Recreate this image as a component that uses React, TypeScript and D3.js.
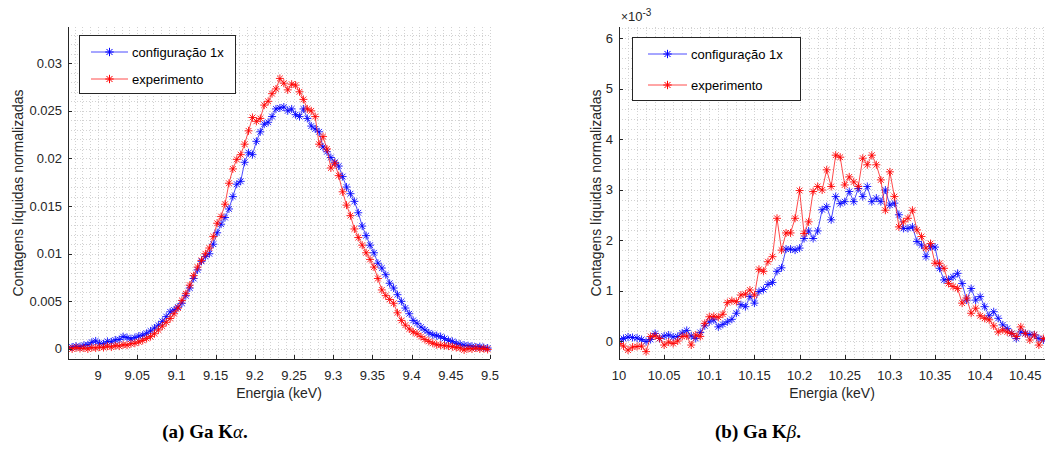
import React from "react";
import * as d3 from "d3";

// ---------- DATA (values in units of 1e-3) ----------
const kaEnergy = [
  8.962, 8.967, 8.972, 8.977, 8.982, 8.987, 8.992, 8.997, 9.002, 9.007,
  9.012, 9.017, 9.022, 9.027, 9.032, 9.037, 9.042, 9.047, 9.052, 9.057,
  9.062, 9.067, 9.072, 9.077, 9.082, 9.087, 9.092, 9.097, 9.102, 9.107,
  9.112, 9.117, 9.122, 9.127, 9.132, 9.137, 9.142, 9.147, 9.152, 9.157,
  9.162, 9.167, 9.172, 9.177, 9.182, 9.187, 9.192, 9.197, 9.202, 9.207,
  9.212, 9.217, 9.222, 9.227, 9.232, 9.237, 9.242, 9.247, 9.252, 9.257,
  9.262, 9.267, 9.272, 9.277, 9.282, 9.287, 9.292, 9.297, 9.302, 9.307,
  9.312, 9.317, 9.322, 9.327, 9.332, 9.337, 9.342, 9.347, 9.352, 9.357,
  9.362, 9.367, 9.372, 9.377, 9.382, 9.387, 9.392, 9.397, 9.402, 9.407,
  9.412, 9.417, 9.422, 9.427, 9.432, 9.437, 9.442, 9.447, 9.452, 9.457,
  9.462, 9.467, 9.472, 9.477, 9.482, 9.487, 9.492, 9.497,
];
const kaSim = [
  0.15, 0.2, 0.3, 0.25, 0.4, 0.45, 0.7, 0.85, 0.6, 0.55,
  0.8, 0.75, 0.95, 1.0, 1.3, 1.2, 1.05, 1.2, 1.35, 1.45,
  1.65, 1.9, 2.2, 2.5, 2.9, 3.4, 3.9, 4.1, 4.4, 4.8,
  5.6, 6.4, 7.4, 8.3, 9.2, 9.7, 10.0, 11.0, 12.2, 13.1,
  13.8, 14.7, 16.0, 17.3, 17.6, 19.6, 20.6, 20.4, 21.8, 22.8,
  23.6, 23.8, 24.4, 25.2, 25.3, 25.4, 25.0, 25.2, 24.6, 24.4,
  25.2, 24.2, 23.4, 23.1, 22.8, 21.2, 20.7, 20.1, 19.6, 19.2,
  18.1, 17.0, 16.3, 15.5, 14.3, 12.9, 11.9, 10.9, 10.1, 9.0,
  8.5, 7.8, 6.9, 6.4, 5.7, 5.0, 4.3, 3.7, 3.0, 2.7,
  2.3, 2.0, 1.7, 1.5, 1.4, 1.3, 1.1, 0.9, 0.8, 0.6,
  0.5, 0.4, 0.35, 0.3, 0.2, 0.25, 0.15, 0.1,
];
const kaExp = [
  0.1, 0.0, 0.15, 0.05, 0.1, 0.0, 0.15, 0.1, 0.2, 0.15,
  0.3, 0.2, 0.35, 0.3, 0.45, 0.4, 0.55, 0.6, 0.75, 0.9,
  1.1, 1.3, 1.6, 2.0, 2.4, 2.8, 3.2, 3.7, 4.3, 5.1,
  5.8, 6.7, 7.7, 8.6, 9.3, 10.0, 10.6, 11.8, 13.2, 13.9,
  15.2, 17.4, 18.9, 19.9, 20.4, 21.5, 22.9, 24.3, 23.9, 24.2,
  25.6, 26.0, 26.8, 27.3, 28.4, 27.9, 27.2, 27.8, 27.7, 27.0,
  26.2, 25.2, 25.0, 24.4, 21.5, 22.3, 21.0, 19.0, 19.5, 18.2,
  16.5, 15.1, 14.0, 12.6, 11.7, 10.9, 10.1, 9.4, 8.6, 7.4,
  6.2, 5.6, 5.2, 4.8, 3.8, 3.0, 2.5, 2.1, 1.8, 1.6,
  1.3, 1.0, 0.8, 0.6, 0.45, 0.4, 0.35, 0.3, 0.25, 0.15,
  0.1, -0.1, 0.05, 0.0, 0.1, 0.0, 0.05, -0.05,
];

const kbEnergy = [
  10.0, 10.005, 10.01, 10.015, 10.02, 10.025, 10.03, 10.035, 10.04, 10.045,
  10.05, 10.055, 10.06, 10.065, 10.07, 10.075, 10.08, 10.085, 10.09, 10.095,
  10.1, 10.105, 10.11, 10.115, 10.12, 10.125, 10.13, 10.135, 10.14, 10.145,
  10.15, 10.155, 10.16, 10.165, 10.17, 10.175, 10.18, 10.185, 10.19, 10.195,
  10.2, 10.205, 10.21, 10.215, 10.22, 10.225, 10.23, 10.235, 10.24, 10.245,
  10.25, 10.255, 10.26, 10.265, 10.27, 10.275, 10.28, 10.285, 10.29, 10.295,
  10.3, 10.305, 10.31, 10.315, 10.32, 10.325, 10.33, 10.335, 10.34, 10.345,
  10.35, 10.355, 10.36, 10.365, 10.37, 10.375, 10.38, 10.385, 10.39, 10.395,
  10.4, 10.405, 10.41, 10.415, 10.42, 10.425, 10.43, 10.435, 10.44, 10.445,
  10.45, 10.455, 10.46, 10.465, 10.47,
];
const kbSim = [
  0.02, 0.05, 0.08, 0.07, 0.06, 0.03, -0.01, 0.03, 0.15, 0.05,
  0.1, 0.12, 0.08, 0.09, 0.16, 0.21, 0.1, 0.05, 0.17, 0.3,
  0.38, 0.42, 0.28, 0.33, 0.38, 0.43, 0.55, 0.72, 0.68, 0.88,
  0.75, 0.98, 1.02, 1.12, 1.16, 1.38, 1.45, 1.82, 1.82, 1.8,
  1.84, 2.03, 2.18, 2.03, 2.18, 2.6, 2.66, 2.4, 2.86, 2.72,
  2.76, 2.96, 2.76, 3.02, 2.86, 3.06, 2.76, 2.83, 2.76, 2.99,
  2.69, 2.73, 2.5, 2.23, 2.23, 2.26, 1.97, 1.9, 1.67, 1.87,
  1.86, 1.44, 1.21, 1.22, 1.27, 1.34, 1.14, 0.81, 1.04, 0.81,
  0.88, 0.68, 0.5, 0.58, 0.45, 0.32, 0.25, 0.15, 0.05, 0.18,
  0.15, 0.13, 0.12, 0.05, 0.02,
];
const kbExp = [
  -0.05, -0.1, -0.18, -0.12, -0.11, -0.1, -0.21, 0.09, 0.1, 0.05,
  -0.08, -0.02, -0.05, 0.0, 0.09, 0.1, -0.08, 0.12, 0.09, 0.35,
  0.48, 0.49, 0.47, 0.53, 0.76, 0.8, 0.78, 0.91, 0.93, 1.01,
  0.91, 1.42, 1.38, 1.57, 1.67, 2.43, 1.8, 2.14, 2.14, 2.43,
  2.98, 2.13, 2.36, 2.96, 3.06, 2.99, 3.39, 3.06, 3.68, 3.64,
  3.09, 3.25, 3.15, 3.06, 3.62, 3.49, 3.68, 3.49, 3.19, 2.59,
  3.35, 2.86, 2.26, 2.36, 2.43, 2.59, 2.2, 2.07, 1.84, 1.93,
  1.54, 1.54, 1.44, 1.14, 1.08, 1.04, 0.75, 0.85, 0.55, 0.65,
  0.5, 0.45, 0.42, 0.3, 0.18, 0.22, 0.18, 0.15, 0.09, 0.28,
  0.15, 0.02, 0.12, -0.08, 0.05,
];

const kaXTicks = [9, 9.05, 9.1, 9.15, 9.2, 9.25, 9.3, 9.35, 9.4, 9.45, 9.5];
const kaXTickLabels = ["9", "9.05", "9.1", "9.15", "9.2", "9.25", "9.3", "9.35", "9.4", "9.45", "9.5"];
const kaYTicks = [0, 5, 10, 15, 20, 25, 30];
const kaYTickLabels = ["0", "0.005", "0.01", "0.015", "0.02", "0.025", "0.03"];
const kbXTicks = [10, 10.05, 10.1, 10.15, 10.2, 10.25, 10.3, 10.35, 10.4, 10.45];
const kbXTickLabels = ["10", "10.05", "10.1", "10.15", "10.2", "10.25", "10.3", "10.35", "10.4", "10.45"];
const kbYTicks = [0, 1, 2, 3, 4, 5, 6];
const kbYTickLabels = ["0", "1", "2", "3", "4", "5", "6"];

const seriesNames = ["configuração 1x", "experimento"];
const seriesColors = ["#0000ff", "#ff0000"];

const FONT = "'Liberation Sans', Arial, Helvetica, sans-serif";
const AX = "#262626";

function asteriskPath(pts: [number, number][], r = 4) {
  const d = r * 0.72;
  return pts
    .map(
      ([x, y]) =>
        `M${x - r},${y}H${x + r}M${x},${y - r}V${y + r}M${x - d},${y - d}L${x + d},${y + d}M${x - d},${y + d}L${x + d},${y - d}`
    )
    .join("");
}

type PanelCfg = {
  left: number; right: number; top: number; bottom: number;
  xDomain: [number, number]; yDomain: [number, number];
  xMinorStep: number; yMinorStep: number;
  xTicks: number[]; xTickLabels: string[];
  yTicks: number[]; yTickLabels: string[];
  energy: number[]; series: number[][];
  yLabelX: number; exponent?: boolean;
  legend: { x: number; y: number; w: number; h: number; lineX0: number; lineX1: number; textX: number; row1: number; row2: number };
  clipId: string;
};

function Panel({ c }: { c: PanelCfg }) {
  const x = d3.scaleLinear().domain(c.xDomain).range([c.left, c.right]);
  const y = d3.scaleLinear().domain(c.yDomain).range([c.bottom, c.top]);
  const xMinor = d3.range(Math.ceil(c.xDomain[0] / c.xMinorStep) * c.xMinorStep, c.xDomain[1] + 1e-9, c.xMinorStep);
  const yMinor = d3.range(Math.ceil(c.yDomain[0] / c.yMinorStep) * c.yMinorStep, c.yDomain[1] + 1e-9, c.yMinorStep);
  const line = d3.line<[number, number]>().x((d) => d[0]).y((d) => d[1]);
  const cx = (c.left + c.right) / 2;
  const cy = (c.top + c.bottom) / 2;
  return (
    <g>
      <defs>
        <clipPath id={c.clipId}>
          <rect x={c.left} y={c.top - 6} width={c.right - c.left + 6} height={c.bottom - c.top + 6} />
        </clipPath>
      </defs>
      {/* grid */}
      <g stroke="#d2d2d2" strokeWidth={1} strokeDasharray="1,2" shapeRendering="crispEdges">
        {xMinor.map((v, i) => (
          <line key={"gx" + i} x1={Math.round(x(v)) + 0.5} x2={Math.round(x(v)) + 0.5} y1={c.top} y2={c.bottom} />
        ))}
        {yMinor.map((v, i) => (
          <line key={"gy" + i} x1={c.left} x2={c.right} y1={Math.round(y(v)) + 0.5} y2={Math.round(y(v)) + 0.5} />
        ))}
      </g>
      {/* data */}
      <g clipPath={`url(#${c.clipId})`}>
        {c.series.map((vals, si) => {
          const pts = vals.map((v, i) => [x(c.energy[i]), y(v)] as [number, number]);
          return (
            <g key={si} stroke={seriesColors[si]} fill="none" strokeWidth={1}>
              <path d={line(pts) || ""} strokeOpacity={0.7} />
              <path d={asteriskPath(pts)} strokeOpacity={0.85} />
            </g>
          );
        })}
      </g>
      {/* axes */}
      <g stroke={AX} strokeWidth={1} shapeRendering="crispEdges">
        <line x1={c.left + 0.5} x2={c.left + 0.5} y1={c.top} y2={c.bottom + 0.5} />
        <line x1={c.left} x2={c.right} y1={c.bottom + 0.5} y2={c.bottom + 0.5} />
        {c.xTicks.map((t, i) => (
          <line key={"xt" + i} x1={Math.round(x(t)) + 0.5} x2={Math.round(x(t)) + 0.5} y1={c.bottom} y2={c.bottom - 4} />
        ))}
        {c.yTicks.map((t, i) => (
          <line key={"yt" + i} x1={c.left} x2={c.left + 4} y1={Math.round(y(t)) + 0.5} y2={Math.round(y(t)) + 0.5} />
        ))}
      </g>
      <g fontFamily={FONT} fontSize={13} fill={AX}>
        {c.xTicks.map((t, i) => (
          <text key={"xl" + i} x={x(t)} y={c.bottom + 21} textAnchor="middle">
            {c.xTickLabels[i]}
          </text>
        ))}
        {c.yTicks.map((t, i) => (
          <text key={"yl" + i} x={c.left - 6} y={y(t) + 4.5} textAnchor="end">
            {c.yTickLabels[i]}
          </text>
        ))}
      </g>
      <text x={cx} y={c.bottom + 39} textAnchor="middle" fontFamily={FONT} fontSize={14} fill={AX}>
        Energia (keV)
      </text>
      <text
        transform={`translate(${c.yLabelX},${cy}) rotate(-90)`}
        textAnchor="middle"
        fontFamily={FONT}
        fontSize={14}
        fill={AX}
      >
        Contagens líquidas normalizadas
      </text>
      {c.exponent && (
        <text x={c.left + 2} y={c.top - 6} fontFamily={FONT} fontSize={13} fill={AX}>
          <tspan fontSize={12}>×</tspan>
          <tspan>10</tspan>
          <tspan fontSize={10} dy={-5}>-3</tspan>
        </text>
      )}
      {/* legend */}
      <g>
        <rect x={c.legend.x + 0.5} y={c.legend.y + 0.5} width={c.legend.w} height={c.legend.h} fill="#fff" stroke="#262626" strokeWidth={1} shapeRendering="crispEdges" />
        {seriesNames.map((n, i) => {
          const ry = i === 0 ? c.legend.row1 : c.legend.row2;
          const mx = (c.legend.lineX0 + c.legend.lineX1) / 2;
          return (
            <g key={n}>
              <line x1={c.legend.lineX0} x2={c.legend.lineX1} y1={ry} y2={ry} stroke={seriesColors[i]} strokeOpacity={0.7} strokeWidth={1} />
              <path d={asteriskPath([[mx, ry]], 4.2)} stroke={seriesColors[i]} strokeWidth={1} fill="none" />
              <text x={c.legend.textX} y={ry + 4.5} fontFamily={FONT} fontSize={13} fill="#000">
                {n}
              </text>
            </g>
          );
        })}
      </g>
    </g>
  );
}

export default function App() {
  const leftCfg: PanelCfg = {
    left: 68, right: 490, top: 27, bottom: 359,
    xDomain: [8.9617, 9.5], yDomain: [-1.05, 33.8],
    xMinorStep: 0.01, yMinorStep: 1,
    xTicks: kaXTicks, xTickLabels: kaXTickLabels,
    yTicks: kaYTicks, yTickLabels: kaYTickLabels,
    energy: kaEnergy, series: [kaSim, kaExp],
    yLabelX: 23,
    legend: { x: 79, y: 35, w: 156, h: 58, lineX0: 91, lineX1: 128, textX: 132, row1: 52, row2: 79 },
    clipId: "clipA",
  };
  const rightCfg: PanelCfg = {
    left: 619, right: 1045, top: 27, bottom: 359,
    xDomain: [10, 10.4718], yDomain: [-0.356, 6.218],
    xMinorStep: 0.01, yMinorStep: 0.2,
    xTicks: kbXTicks, xTickLabels: kbXTickLabels,
    yTicks: kbYTicks, yTickLabels: kbYTickLabels,
    energy: kbEnergy, series: [kbSim, kbExp],
    yLabelX: 601, exponent: true,
    legend: { x: 632, y: 37, w: 168, h: 63, lineX0: 648, lineX1: 687, textX: 691, row1: 54, row2: 85 },
    clipId: "clipB",
  };
  return (
    <svg width={1045} height={453} style={{ position: "absolute", left: 0, top: 0, background: "#fff" }}>
      <rect width={1045} height={453} fill="#fff" />
      <Panel c={leftCfg} />
      <Panel c={rightCfg} />
      <g fontFamily="'Liberation Serif', 'Times New Roman', serif" fontSize={19} fontWeight="bold" fill="#000">
        <text x={205} y={438} textAnchor="middle">
          (a) Ga K<tspan fontStyle="italic" fontWeight="normal">α</tspan>.
        </text>
        <text x={758} y={438} textAnchor="middle">
          (b) Ga K<tspan fontStyle="italic" fontWeight="normal">β</tspan>.
        </text>
      </g>
    </svg>
  );
}
